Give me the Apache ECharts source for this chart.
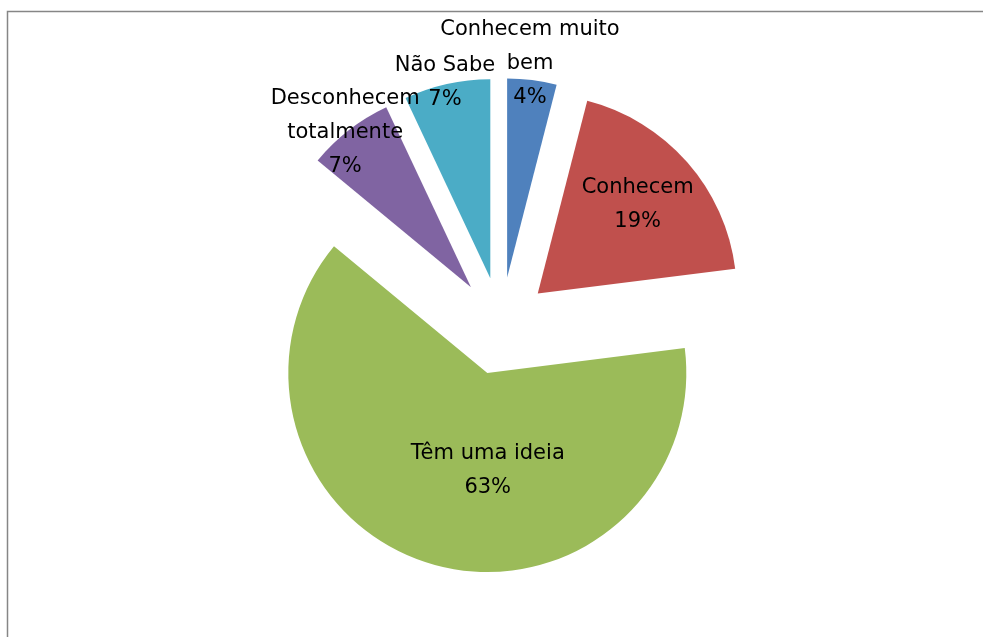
<!DOCTYPE html>
<html>
<head>
<meta charset="utf-8">
<script src="https://cdn.jsdelivr.net/npm/echarts@6/dist/echarts.min.js"></script>
<style>
html,body{margin:0;padding:0;background:#fff;}
#c{width:983px;height:637px;}
</style>
</head>
<body>
<div id="c"></div>
<script>
// Data
var categories = ['Conhecem muito\nbem', 'Conhecem', 'Têm uma ideia', 'Desconhecem\ntotalmente', 'Não Sabe'];
var values = [4, 19, 63, 7, 7];

// Styles
var colors = ['#4F81BD', '#C0504D', '#9BBB59', '#8064A2', '#4BACC6'];
var labelShift = [[10, -112], [23, -21], [29, -1], [-63, -74], [-23, -96]];

var chart = echarts.init(document.getElementById('c'), null, {renderer: 'canvas'});
chart.setOption({
  animation: false,
  backgroundColor: '#ffffff',
  graphic: [{
    type: 'rect',
    shape: {x: 7.5, y: 11.5, width: 1000, height: 700},
    style: {fill: 'none', stroke: '#868686', lineWidth: 1.5},
    silent: true
  }],
  series: [{
    type: 'pie',
    center: [501, 326],
    radius: [0, 199],
    startAngle: 90,
    clockwise: true,
    selectedMode: 'multiple',
    selectedOffset: 49,
    avoidLabelOverlap: false,
    emphasis: {disabled: true},
    itemStyle: {borderWidth: 0},
    label: {
      show: true,
      position: 'inside',
      fontFamily: 'DejaVu Sans',
      fontSize: 21,
      lineHeight: 34,
      color: '#000',
      align: 'center',
      formatter: function (p) { return p.name + '\n' + Math.round(p.percent) + '%'; }
    },
    labelLine: {show: false},
    labelLayout: function (p) {
      var s = labelShift[p.dataIndex];
      return {dx: s[0], dy: s[1]};
    },
    data: categories.map(function (c, i) {
      return {name: c, value: values[i], selected: true, itemStyle: {color: colors[i]}};
    })
  }]
});
</script>
</body>
</html>
